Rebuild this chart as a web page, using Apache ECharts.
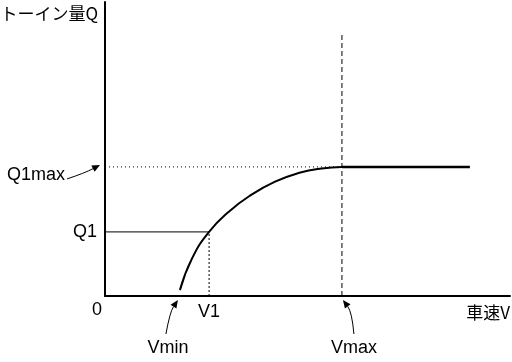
<!DOCTYPE html>
<html><head><meta charset="utf-8">
<script src="https://cdn.jsdelivr.net/npm/echarts@6/dist/echarts.min.js"></script>
<style>html,body{margin:0;padding:0;background:#fff}#c{width:512px;height:362px}</style>
</head><body><div id="c"></div>
<script>
// Curve: toe-in amount Q vs vehicle speed V (axis units 0..100)
const curveX = [18.5, 21.5, 25.7, 30.5, 36.0, 42.0, 48.0, 53.5, 58.5];
const curveY = [2.0, 12.8, 21.8, 28.6, 34.3, 38.9, 41.9, 43.4, 43.9];
const flatX = [58.5, 90.1];
const flatY = [43.9, 43.9];
const V_MIN = 18.5, V1 = 25.7, V_MAX = 58.5;
const Q1 = 21.8, Q1_MAX = 43.9, VMAX_LINE_TOP = 88.8;
const yTitle = 'トーイン量Q';
const xTitle = '車速V';
const labelQ1 = 'Q1', labelQ1max = 'Q1max', labelV1 = 'V1', labelVmin = 'Vmin', labelVmax = 'Vmax', labelZero = '0';

(function () {
const chart = echarts.init(document.getElementById('c'), null, {renderer: 'canvas'});
const black = '#000';
const font = '"Liberation Sans", Arial, sans-serif';
const axisCommon = {
  type: 'value', min: 0, max: 100,
  axisLine: {show: true, lineStyle: {color: black, width: 2}},
  axisTick: {show: false}, splitLine: {show: false}, axisLabel: {show: false}
};
function seg(a, b, type, width) {
  return {type: 'line', data: [a, b], symbol: 'none', silent: true, animation: false,
    lineStyle: {color: black, width: width, type: type}};
}
chart.setOption({
  animation: false,
  grid: {left: 105, right: 2, top: 2, bottom: 66},
  xAxis: axisCommon,
  yAxis: axisCommon,
  series: [
    seg([0, Q1_MAX], [V_MAX, Q1_MAX], [1, 3], 1),
    seg([V_MAX, 0], [V_MAX, VMAX_LINE_TOP], [5, 3], 1),
    seg([0, Q1], [V1, Q1], 'solid', 1),
    seg([V1, 0], [V1, Q1], [2, 2], 1),
    {type: 'line', data: curveX.map((x, i) => [x, curveY[i]]), symbol: 'none', smooth: 0.5,
      lineStyle: {color: black, width: 2}, animation: false},
    {type: 'line', data: flatX.map((x, i) => [x, flatY[i]]), symbol: 'none',
      lineStyle: {color: black, width: 2.5}, animation: false}
  ]
});
const P = (x, y) => chart.convertToPixel({gridIndex: 0}, [x, y]);
const o = P(0, 0), pV1 = P(V1, 0), pVmin = P(V_MIN, 0), pVmax = P(V_MAX, 0), pQ1 = P(0, Q1), pQm = P(0, Q1_MAX), pTop = P(0, 100), pRight = P(100, 0);
function txt(x, y, s, align, size, ff) {
  return {type: 'text', x: x, y: y, style: {text: s, fill: black, font: (size || 18) + 'px ' + (ff || font), align: align || 'center', verticalAlign: 'middle'}};
}
function arrow(x0, y0, cx, cy, x1, y1) {
  const ang = Math.atan2(y1 - cy, x1 - cx);
  const L = 8, W = 3.5;
  const bx = x1 - L * Math.cos(ang), by = y1 - L * Math.sin(ang);
  const nx = -Math.sin(ang) * W, ny = Math.cos(ang) * W;
  return [
    {type: 'bezierCurve', shape: {x1: x0, y1: y0, x2: bx, y2: by, cpx1: cx, cpy1: cy}, style: {stroke: black, lineWidth: 1, fill: null}},
    {type: 'polygon', shape: {points: [[x1, y1], [bx + nx, by + ny], [bx - nx, by - ny]]}, style: {fill: black}}
  ];
}
chart.setOption({graphic: [
  txt(pTop[0] - 7, 14, yTitle, 'right', 17, '"Noto Sans CJK JP", sans-serif'),
  txt(pRight[0], o[1] + 17, xTitle, 'right', 17, '"Noto Sans CJK JP", sans-serif'),
  txt(o[0] - 8, o[1] + 14, labelZero, 'center'),
  txt(pQ1[0] - 8, pQ1[1], labelQ1, 'right'),
  txt(pQm[0] - 40, pQm[1] + 8, labelQ1max, 'right'),
  txt(pV1[0], o[1] + 16, labelV1, 'center'),
  txt(pVmin[0] - 12, o[1] + 52, labelVmin, 'center'),
  txt(pVmax[0] + 12, o[1] + 52, labelVmax, 'center'),
  ...arrow(pQm[0] - 38, pQm[1] + 12, pQm[0] - 20, pQm[1] + 6, pQm[0] - 5, pQm[1] - 2),
  ...arrow(pVmin[0] - 14, o[1] + 38, pVmin[0] - 10, o[1] + 16, pVmin[0] - 2, o[1] + 4),
  ...arrow(pVmax[0] + 12, o[1] + 38, pVmax[0] + 10, o[1] + 16, pVmax[0] + 1, o[1] + 4)
]});
})();
</script></body></html>
